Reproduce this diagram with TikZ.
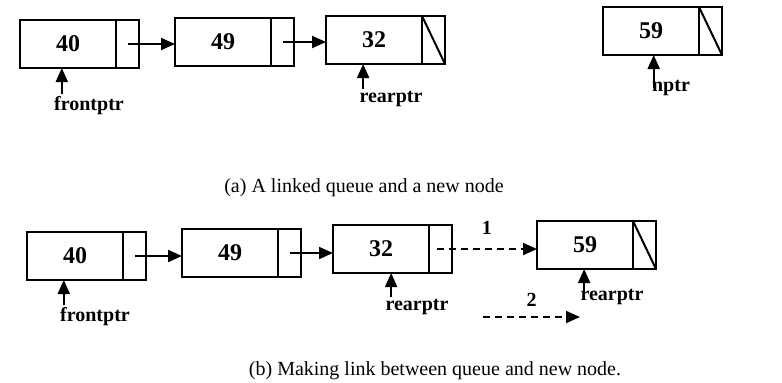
\documentclass[tikz,border=0pt]{standalone}
\usepackage{fontspec}
\setmainfont{Liberation Serif}
\usetikzlibrary{arrows.meta, positioning}

\begin{document}
\begin{tikzpicture}[
  x=0.5pt, y=-0.5pt,
  datafld/.style={draw, line width=1.3pt, outer sep=0pt, inner sep=0pt,
    minimum width=48pt, minimum height=24pt, font=\bfseries\large},
  ptrfld/.style={draw, line width=1.3pt, outer sep=0pt, inner sep=0pt,
    minimum width=11.5pt, minimum height=24pt, right=0pt of #1},
  nullptr/.style={line width=1pt},
  link/.style={-{Triangle[length=7pt, width=6pt]}, line width=1pt},
  dlink/.style={link, dash pattern=on 3.5pt off 2.5pt},
  lbl/.style={font=\bfseries, inner sep=1pt},
  captxt/.style={font=\normalsize}
]
  \useasboundingbox (0,0) rectangle (782,382);

  % (a) a linked queue and a new node
  \node[datafld] (a1) at (68,44) {40};
  \node[ptrfld=a1] (a1p) {};
  \node[datafld] (a2) at (223,42) {49};
  \node[ptrfld=a2] (a2p) {};
  \node[datafld] (a3) at (374,40) {32};
  \node[ptrfld=a3] (a3p) {};
  \node[datafld] (a4) at (651,31) {59};
  \node[ptrfld=a4] (a4p) {};
  \draw[nullptr] (a3p.north west) -- (a3p.south east);
  \draw[nullptr] (a4p.north west) -- (a4p.south east);
  \draw[link] (a1p.center) -- (a1p.center -| a2.west);
  \draw[link] (a2p.center) -- (a2p.center -| a3.west);

  \node[lbl] (fa) at (89,106) {frontptr};
  \node[lbl] (ra) at (391,99) {rearptr};
  \node[lbl] (na) at (671,88) {nptr};
  \draw[link] ([xshift=5pt]fa.north west) -- ([xshift=5pt]fa.north west |- a1.south);
  \draw[link] ([xshift=3pt]ra.north west) -- ([xshift=3pt]ra.north west |- a3.south);
  \draw[link] ([xshift=2pt]na.west) -- ([xshift=2pt]na.west |- a4.south);

  \node[captxt] (capa) at (364,188) {(a) A linked queue and a new node};

  % (b) making the link
  \node[datafld] (b1) at (75,256) {40};
  \node[ptrfld=b1] (b1p) {};
  \node[datafld] (b2) at (230,253) {49};
  \node[ptrfld=b2] (b2p) {};
  \node[datafld] (b3) at (381,249) {32};
  \node[ptrfld=b3] (b3p) {};
  \node[datafld] (b4) at (585,245) {59};
  \node[ptrfld=b4] (b4p) {};
  \draw[nullptr] (b4p.north west) -- (b4p.south east);
  \draw[link] (b1p.center) -- (b1p.center -| b2.west);
  \draw[link] (b2p.center) -- (b2p.center -| b3.west);
  \draw[dlink] ([xshift=-2pt]b3p.center) -- node[lbl, above=6pt] (one) {1} (b3p.center -| b4.west);

  \node[lbl] (fb) at (95,317) {frontptr};
  \node[lbl] (rb) at (417,307) {rearptr};
  \node[lbl] (rn) at (612,297) {rearptr};
  \draw[link] ([xshift=3pt]fb.north west) -- ([xshift=3pt]fb.north west |- b1.south);
  \draw[link] ([xshift=4pt]rb.north west) -- ([xshift=4pt]rb.north west |- b3.south);
  \draw[link] ([xshift=3pt]rn.west) -- ([xshift=3pt]rn.west |- b4.south);

  \coordinate (s2) at (483,317);
  \coordinate (e2) at (580,317);
  \draw[dlink] (s2) -- node[lbl, above=4pt] (two) {2} (e2);

  \node[captxt] (capb) at (435,371) {(b) Making link between queue and new node.};
\end{tikzpicture}
\end{document}
